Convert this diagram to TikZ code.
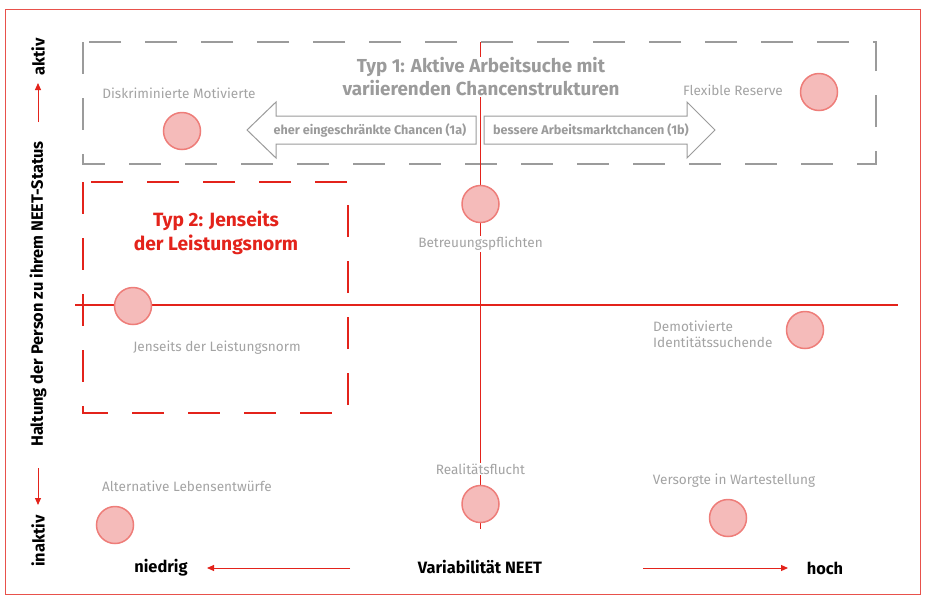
\documentclass[tikz,border=0pt]{standalone}
\usepackage{fontspec}
\setmainfont{Fira Sans}
\usepackage{xcolor}
\usetikzlibrary{arrows.meta}
\definecolor{neetred}{HTML}{E3231B}
\definecolor{framered}{HTML}{E8514B}
\definecolor{dotfill}{HTML}{F5BBBA}
\definecolor{dotline}{HTML}{EE7D79}
\definecolor{typgray}{HTML}{9B9B9B}
\definecolor{labgray}{HTML}{A3A3A3}

\tikzset{
  punkt/.style={circle,draw=dotline,fill=dotfill,line width=1.5pt,minimum size=37pt,inner sep=0pt},
  gruppe/.style={text=labgray,font=\fontsize{13.6}{16}\selectfont,inner sep=1pt},
  achse/.style={draw=neetred,line width=1.5pt},
  pfeil/.style={draw=neetred,line width=1pt,-{Triangle[length=7pt,width=6pt]}},
  achsentext/.style={font=\fontsize{16.4}{18}\selectfont\bfseries,text=black,inner sep=1pt},
  kasten/.style={line width=2.2pt,dash pattern=on 32pt off 24pt},
  chance/.style={draw=typgray,line width=1pt,fill=white},
  chancetext/.style={text=typgray,font=\fontsize{12.6}{14}\selectfont\bfseries,inner sep=1pt},
  typtitel/.style={font=\fontsize{18.8}{23}\selectfont\bfseries,align=center,inner sep=1pt},
}

\begin{document}
\begin{tikzpicture}[x=1pt,y=-1pt]
  \useasboundingbox (0,0) rectangle (926,595);
  \draw[framered,line width=1pt] (5.5,9) rectangle (920,594);

  % Typ-Kaesten
  \draw[typgray,kasten] (83,42) rectangle (876,164);
  \draw[neetred,kasten] (83,182) rectangle (348,413);

  % Achsenkreuz
  \coordinate (links) at (75,305);
  \coordinate (rechts) at (898,305);
  \coordinate (oben) at (480.5,42);
  \coordinate (unten) at (480.5,529);
  \draw[achse] (links) -- (rechts);
  \draw[achse] (oben) -- (unten);

  % Chancen-Pfeile
  \draw[chance] (476,116) -- (276,116) -- (276,102) -- (247,130) -- (276,158) -- (276,144) -- (476,144) -- cycle;
  \draw[chance] (484,116) -- (687,116) -- (687,102) -- (715,130) -- (687,158) -- (687,144) -- (484,144) -- cycle;
  \node[chancetext] (eher) at (370,130) {eher eingeschränkte Chancen (1a)};
  \node[chancetext] (besser) at (591,130) {bessere Arbeitsmarktchancen (1b)};

  \node[typtitel,text=typgray,fill=white] (typ1) at (481,77) {Typ 1: Aktive Arbeitsuche mit\\variierenden Chancenstrukturen};
  \node[typtitel,text=neetred,font=\fontsize{19.2}{24}\selectfont\bfseries] (typ2) at (216,233) {Typ 2: Jenseits\\der Leistungsnorm};

  % Gruppen
  \node[punkt] (diskr) at (182,131) {};
  \node[gruppe] (diskrtxt) at (179,93) {Diskriminierte Motivierte};
  \node[punkt] (flex) at (819,92) {};
  \node[gruppe] (flextxt) at (733,90) {Flexible Reserve};
  \node[punkt] (betr) at (480.5,204) {};
  \node[gruppe,fill=white] (betrtxt) at (480.5,244) {Betreuungspflichten};
  \node[punkt] (jens) at (133,306) {};
  \node[gruppe] (jenstxt) at (217,348) {Jenseits der Leistungsnorm};
  \node[punkt] (demo) at (805,330) {};
  \node[gruppe,anchor=west,align=left] (demotxt) at (652,334) {Demotivierte\\Identitätssuchende};
  \node[punkt] (real) at (480.5,504) {};
  \node[gruppe,fill=white] (realtxt) at (480.5,469) {Realitätsflucht};
  \node[punkt] (alt) at (115,525) {};
  \node[gruppe] (alttxt) at (187,486) {Alternative Lebensentwürfe};
  \node[punkt] (vers) at (728,518) {};
  \node[gruppe] (verstxt) at (734,481) {Versorgte in Wartestellung};

  % Achsenbeschriftung
  \node[achsentext,rotate=90] (haltung) at (38,294) {Haltung der Person zu ihrem NEET-Status};
  \node[achsentext,rotate=90] (aktiv) at (38,57) {aktiv};
  \node[achsentext,rotate=90] (inaktiv) at (38,541) {inaktiv};
  \coordinate (a1) at (38,122);
  \coordinate (a2) at (38,83);
  \coordinate (i1) at (38,468);
  \coordinate (i2) at (38,505);
  \draw[pfeil] (a1) -- (a2);
  \draw[pfeil] (i1) -- (i2);

  \node[achsentext] (niedrig) at (161,568) {niedrig};
  \node[achsentext] (variab) at (480,567) {Variabilität NEET};
  \node[achsentext] (hoch) at (825,568) {hoch};
  \coordinate (n1) at (350,568);
  \coordinate (n2) at (207,568);
  \coordinate (h1) at (643,568);
  \coordinate (h2) at (788,568);
  \draw[pfeil] (n1) -- (n2);
  \draw[pfeil] (h1) -- (h2);
\end{tikzpicture}
\end{document}
